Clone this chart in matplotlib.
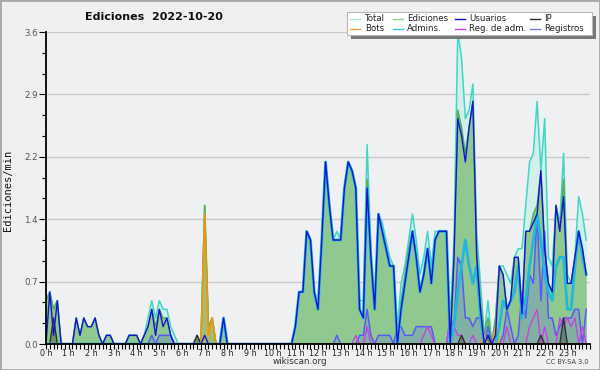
import numpy as np
import matplotlib
matplotlib.use("Agg")
import matplotlib.pyplot as plt
from matplotlib.patches import Rectangle
from matplotlib.lines import Line2D
from matplotlib.ticker import MultipleLocator, FixedLocator

# ---- data: edits per minute, one value per 10-minute bin (6 per hour) ----
total = [
    0.5, 0.6, 0.4, 0.5, 0, 0,
    0, 0, 0.3, 0.1, 0.3, 0.2,
    0.2, 0.3, 0.1, 0, 0.1, 0.1,
    0, 0, 0, 0, 0.1, 0.1,
    0.1, 0, 0.1, 0.3, 0.5, 0.3,
    0.5, 0.4, 0.4, 0.2, 0.1, 0,
    0, 0, 0, 0, 0.1, 0,
    1.6, 0.2, 0.3, 0, 0, 0.3,
    0, 0, 0, 0, 0, 0,
    0, 0, 0, 0, 0, 0,
    0, 0, 0, 0, 0, 0,
    0.2, 0.6, 0.6, 1.3, 1.2, 0.6,
    0.5, 1.2, 2.1, 1.6, 1.2, 1.3,
    1.2, 1.8, 2.1, 2.0, 1.8, 0.5,
    0.5, 2.3, 1.1, 0.4, 1.5, 1.4,
    1.2, 1.0, 0.9, 0.2, 0.7, 0.9,
    1.2, 1.5, 1.2, 0.8, 1.0, 1.3,
    0.9, 1.3, 1.3, 1.3, 1.3, 0.3,
    1.2, 3.6, 3.3, 2.6, 2.7, 3.0,
    1.3, 0.7, 0.1, 0.5, 0, 0.3,
    0.9, 0.9, 0.8, 0.7, 1.0, 1.1,
    1.1, 1.6, 2.1, 2.2, 2.8, 2.0,
    2.6, 1.0, 0.9, 1.6, 1.4, 2.2,
    0.8, 0.7, 1.0, 1.7, 1.5, 1.2,
]
ediciones = [
    0.5, 0.6, 0.4, 0.5, 0, 0,
    0, 0, 0.3, 0.1, 0.3, 0.2,
    0.2, 0.3, 0.1, 0, 0.1, 0.1,
    0, 0, 0, 0, 0.1, 0.1,
    0.1, 0, 0.1, 0.2, 0.4, 0.2,
    0.4, 0.3, 0.3, 0.1, 0, 0,
    0, 0, 0, 0, 0.1, 0,
    1.6, 0.2, 0.3, 0, 0, 0.3,
    0, 0, 0, 0, 0, 0,
    0, 0, 0, 0, 0, 0,
    0, 0, 0, 0, 0, 0,
    0.2, 0.6, 0.6, 1.3, 1.2, 0.6,
    0.4, 1.2, 2.1, 1.6, 1.2, 1.2,
    1.2, 1.8, 2.1, 2.0, 1.8, 0.4,
    0.3, 1.9, 1.0, 0.4, 1.5, 1.3,
    1.1, 0.9, 0.9, 0.0, 0.5, 0.8,
    1.1, 1.3, 1.0, 0.6, 0.8, 1.1,
    0.7, 1.2, 1.3, 1.3, 1.3, 0,
    1.0, 2.7, 2.5, 2.2, 2.5, 2.8,
    1.1, 0.5, 0.1, 0.3, 0, 0.3,
    0.9, 0.8, 0.4, 0.5, 1.0, 1.0,
    0.4, 1.3, 1.3, 1.5, 1.6, 2.0,
    1.1, 0.7, 0.6, 1.6, 1.3, 1.9,
    0.7, 0.7, 1.0, 1.3, 1.1, 0.8,
]
usuarios = [
    0, 0.6, 0.1, 0.5, 0, 0,
    0, 0, 0.3, 0.1, 0.3, 0.2,
    0.2, 0.3, 0.1, 0, 0.1, 0.1,
    0, 0, 0, 0, 0.1, 0.1,
    0.1, 0, 0.1, 0.2, 0.4, 0.1,
    0.4, 0.2, 0.3, 0.1, 0, 0,
    0, 0, 0, 0, 0, 0,
    0.1, 0, 0, 0, 0, 0.3,
    0, 0, 0, 0, 0, 0,
    0, 0, 0, 0, 0, 0,
    0, 0, 0, 0, 0, 0,
    0.2, 0.6, 0.6, 1.3, 1.2, 0.6,
    0.4, 1.2, 2.1, 1.6, 1.2, 1.2,
    1.2, 1.8, 2.1, 2.0, 1.8, 0.4,
    0.3, 1.8, 1.0, 0.4, 1.5, 1.3,
    1.1, 0.9, 0.9, 0.0, 0.4, 0.7,
    1.0, 1.3, 1.0, 0.6, 0.8, 1.1,
    0.7, 1.2, 1.3, 1.3, 1.3, 0,
    1.0, 2.6, 2.4, 2.1, 2.5, 2.8,
    1.0, 0.4, 0, 0.1, 0, 0.1,
    0.9, 0.8, 0.4, 0.5, 1.0, 1.0,
    0.35, 1.3, 1.3, 1.4, 1.5, 2.0,
    1.1, 0.7, 0.6, 1.6, 1.3, 1.7,
    0.7, 0.7, 1.0, 1.3, 1.1, 0.8,
]
ip = [
    0, 0, 0.3, 0, 0, 0,
    0, 0, 0, 0, 0, 0,
    0, 0, 0, 0, 0, 0,
    0, 0, 0, 0, 0, 0,
    0, 0, 0, 0, 0, 0,
    0, 0, 0, 0, 0, 0,
    0, 0, 0, 0, 0.1, 0,
    0, 0, 0, 0, 0, 0,
    0, 0, 0, 0, 0, 0,
    0, 0, 0, 0, 0, 0,
    0, 0, 0, 0, 0, 0,
    0, 0, 0, 0, 0, 0,
    0, 0, 0, 0, 0, 0,
    0, 0, 0, 0, 0, 0,
    0, 0, 0, 0, 0, 0,
    0, 0, 0, 0, 0, 0,
    0, 0, 0, 0, 0, 0,
    0, 0, 0, 0, 0, 0,
    0, 0, 0.1, 0, 0, 0,
    0, 0, 0, 0.1, 0, 0,
    0, 0, 0, 0, 0, 0,
    0, 0, 0, 0, 0, 0.1,
    0, 0, 0, 0, 0, 0.3,
    0, 0, 0, 0, 0, 0,
]
bots = [
    0, 0, 0, 0, 0, 0,
    0, 0, 0, 0, 0, 0,
    0, 0, 0, 0, 0, 0,
    0, 0, 0, 0, 0, 0,
    0, 0, 0, 0, 0, 0,
    0, 0, 0, 0, 0, 0,
    0, 0, 0, 0, 0, 0,
    1.5, 0.1, 0.3, 0, 0, 0,
    0, 0, 0, 0, 0, 0,
    0, 0, 0, 0, 0, 0,
    0, 0, 0, 0, 0, 0,
    0, 0, 0, 0, 0, 0,
    0, 0, 0, 0, 0, 0,
    0, 0, 0, 0, 0, 0,
    0, 0, 0, 0, 0, 0,
    0, 0, 0, 0, 0, 0,
    0, 0, 0, 0, 0, 0,
    0, 0, 0, 0, 0, 0,
    0, 0, 0, 0, 0, 0,
    0, 0, 0.1, 0, 0, 0.2,
    0, 0, 0, 0, 0, 0,
    0, 0, 0, 0, 0, 0,
    0, 0, 0, 0, 0, 0,
    0, 0, 0, 0, 0, 0,
]
admins = [
    0, 0, 0, 0, 0, 0,
    0, 0, 0, 0, 0, 0,
    0, 0, 0, 0, 0, 0,
    0, 0, 0, 0, 0, 0,
    0, 0, 0, 0, 0, 0,
    0, 0, 0, 0, 0, 0,
    0, 0, 0, 0, 0, 0,
    0, 0, 0, 0, 0, 0.3,
    0, 0, 0, 0, 0, 0,
    0, 0, 0, 0, 0, 0,
    0, 0, 0, 0, 0, 0,
    0.2, 0.6, 0.6, 1.3, 1.2, 0.6,
    0.4, 1.2, 2.1, 1.6, 1.2, 1.2,
    1.2, 1.8, 2.1, 2.0, 1.8, 0.4,
    0.3, 1.8, 1.0, 0.4, 1.5, 1.3,
    1.1, 0.9, 0.9, 0.0, 0.4, 0.7,
    1.0, 1.3, 1.0, 0.6, 0.8, 1.1,
    0.7, 1.2, 1.3, 1.3, 1.3, 0,
    0.2, 0.6, 0.9, 1.2, 0.9, 0.7,
    0.9, 0.3, 0, 0, 0, 0,
    0.2, 0.5, 0.4, 0.5, 0.6, 0.9,
    0.3, 0.5, 0.9, 1.2, 1.5, 1.2,
    0.8, 0.6, 0.5, 0.9, 1.0, 1.0,
    0.4, 0.4, 0.9, 1.3, 1.0, 0.8,
]
reg_adm = [
    0, 0, 0, 0, 0, 0,
    0, 0, 0, 0, 0, 0,
    0, 0, 0, 0, 0, 0,
    0, 0, 0, 0, 0, 0,
    0, 0, 0, 0, 0, 0,
    0, 0, 0, 0, 0, 0,
    0, 0, 0, 0, 0, 0,
    0, 0, 0, 0, 0, 0,
    0, 0, 0, 0, 0, 0,
    0, 0, 0, 0, 0, 0,
    0, 0, 0, 0, 0, 0,
    0, 0, 0, 0, 0, 0,
    0, 0, 0, 0, 0, 0,
    0, 0, 0, 0, 0.1, 0,
    0, 0.2, 0, 0, 0, 0,
    0, 0, 0, 0, 0, 0,
    0, 0, 0, 0, 0.1, 0.2,
    0.1, 0, 0, 0, 0, 0.3,
    0.2, 0.1, 0.1, 0, 0, 0.1,
    0, 0, 0, 0, 0, 0,
    0, 0, 0.2, 0, 0, 0,
    0, 0, 0.2, 0.3, 0.4, 0,
    0.2, 0, 0, 0, 0.3, 0.2,
    0.3, 0.2, 0.3, 0, 0.2, 0,
]
registros = [
    0, 0, 0, 0, 0, 0,
    0, 0, 0, 0, 0, 0,
    0, 0, 0, 0, 0, 0,
    0, 0, 0, 0, 0, 0,
    0, 0, 0, 0, 0.1, 0,
    0.1, 0.1, 0.1, 0.1, 0, 0,
    0, 0, 0, 0, 0, 0,
    0, 0, 0, 0, 0, 0,
    0, 0, 0, 0, 0, 0,
    0, 0, 0, 0, 0, 0,
    0, 0, 0, 0, 0, 0,
    0, 0, 0, 0, 0, 0,
    0, 0, 0, 0, 0, 0.1,
    0, 0, 0, 0, 0, 0.1,
    0.1, 0.4, 0.1, 0, 0.1, 0.1,
    0.1, 0.1, 0, 0.2, 0.2, 0.1,
    0.1, 0.1, 0.2, 0.2, 0.2, 0.2,
    0.2, 0, 0, 0, 0, 0.3,
    0.2, 1.0, 0.9, 0.3, 0.3, 0.2,
    0.3, 0.3, 0, 0.2, 0, 0,
    0, 0.1, 0.4, 0.2, 0, 0.1,
    0.6, 0.3, 0.8, 0.7, 1.5, 0.5,
    1.3, 0.3, 0.3, 0.1, 0.2, 0.3,
    0.3, 0.3, 0.4, 0.4, 0, 0.4,
]
hour_labels = ["0 h", "1 h", "2 h", "3 h", "4 h", "5 h", "6 h", "7 h", "8 h",
               "9 h", "10 h", "11 h", "12 h", "13 h", "14 h", "15 h", "16 h",
               "17 h", "18 h", "19 h", "20 h", "21 h", "22 h", "23 h"]
y_ticks = [0, 0.72, 1.44, 2.16, 2.88, 3.6]
y_tick_labels = ["0.0", "0.7", "1.4", "2.2", "2.9", "3.6"]
legend_labels = ["Total", "Ediciones", "Usuarios", "IP",
                 "Bots", "Admins.", "Reg. de adm.", "Registros"]

# ---- styling ----
W, H = 600, 370
BG_FIG = "#f0f0f0"
BG_AX = "#eef0f2"
C_TOTAL = "#3fd6c6"
C_TOTAL_FILL = "#d3efea"
C_ED = "#52b052"
C_ED_FILL = "#8fc98f"
C_USU = "#1414d4"
C_IP = "#303030"
C_BOTS = "#f0960f"
C_ADM = "#22b8dc"
C_REGADM = "#c444e0"
C_REG = "#5a5af2"

fig = plt.figure(figsize=(W / 100, H / 100), dpi=100, facecolor=BG_FIG)
ax = fig.add_axes([46 / W, 26 / H, 544 / W, 312 / H], facecolor=BG_AX)

x = np.arange(len(total))

ax.fill_between(x, 0, total, color=C_TOTAL_FILL, lw=0, zorder=1)
ax.plot(x, total, color=C_TOTAL, lw=1.1, zorder=1.5)
ax.fill_between(x, 0, ediciones, color=C_ED_FILL, lw=0, zorder=1.6)
ax.plot(x, ediciones, color=C_ED, lw=1.1, zorder=1.7)
ax.fill_between(x, 0, registros, color=C_REG, alpha=0.22, lw=0, zorder=1.8)
ax.fill_between(x, 0, ip, color=C_IP, alpha=0.35, lw=0, zorder=1.8)
ax.fill_between(x, 0, bots, color=C_BOTS, alpha=0.25, lw=0, zorder=1.8)
ax.plot(x, registros, color=C_REG, lw=1.1, zorder=2.0)
ax.plot(x, reg_adm, color=C_REGADM, lw=1.0, zorder=2.0)
ax.plot(x, ip, color=C_IP, lw=1.0, zorder=2.0)
ax.plot(x, bots, color=C_BOTS, lw=1.2, zorder=2.1)
ax.plot(x, admins, color=C_ADM, lw=2.0, zorder=2.1)
ax.plot(x, usuarios, color=C_USU, lw=1.0, zorder=2.2)

ax.set_xlim(0, len(total))
ax.set_ylim(0, 3.6)

ax.xaxis.set_major_locator(FixedLocator(np.arange(0, len(total), 6)))
ax.set_xticklabels(hour_labels)
ax.xaxis.set_minor_locator(MultipleLocator(1))
ax.tick_params(axis="x", which="both", direction="out", length=3.5, width=0.8,
               color="black", labelsize=5.8, labelcolor="#222222", pad=0.3)

ax.set_yticks(y_ticks)
ax.set_yticklabels(y_tick_labels)
ax.yaxis.set_minor_locator(MultipleLocator(0.24))
ax.tick_params(axis="y", which="major", direction="out", length=5, width=0.8,
               labelsize=6.2, labelcolor="#555555", pad=1)
ax.tick_params(axis="y", which="minor", direction="out", length=3, width=0.8)

ax.grid(axis="y", which="major", color="#c9c9c9", lw=1.0, zorder=0)
ax.set_axisbelow(True)
for s in ("top", "right"):
    ax.spines[s].set_visible(False)
for s in ("left", "bottom"):
    ax.spines[s].set_color("black")
    ax.spines[s].set_linewidth(1.3)
    ax.spines[s].set_zorder(3)

fig.text(8 / W, 1 - 190 / H, "Ediciones/min", rotation=90, ha="center",
         va="center", fontsize=7.5, family="DejaVu Sans Mono", color="#111111")
fig.text(154 / W, 1 - 17 / H, "Ediciones  2022-10-20", ha="center",
         va="center", fontsize=8, fontweight="bold", color="#111111")
fig.text(300 / W, 1 - 362 / H, "wikiscan.org", ha="center", va="center",
         fontsize=6.3, color="#333333")
fig.text(589 / W, 1 - 362 / H, "CC BY-SA 3.0", ha="right", va="center",
         fontsize=4.8, color="#444444")

# ---- legend box drawn manually ----
def fr(px, py, w, h):
    return (px / W, 1 - (py + h) / H), w / W, h / H

xy, w, h = fr(351, 16, 245, 23)
fig.patches.append(Rectangle(xy, w, h, transform=fig.transFigure,
                             facecolor="#777777", edgecolor="none", zorder=5))
xy, w, h = fr(347, 12, 245, 23)
fig.patches.append(Rectangle(xy, w, h, transform=fig.transFigure,
                             facecolor="white", edgecolor="#b8b8b8", lw=0.8,
                             zorder=6))
legend_colors = ["#a6e8e2", "#8fd08f", C_USU, C_IP,
                 "#f2a040", "#40c8dc", C_REGADM, "#7878f2"]
col_line_x = [350, 393, 455, 530]
col_text_x = [365, 407, 469, 544]
row_y = [18.5, 28.5]
for k, lab in enumerate(legend_labels):
    r, c = divmod(k, 4)
    yy = 1 - row_y[r] / H
    fig.lines.append(Line2D([col_line_x[c] / W, (col_line_x[c] + 10) / W],
                            [yy, yy], transform=fig.transFigure,
                            color=legend_colors[k], lw=1.0, zorder=7))
    fig.text(col_text_x[c] / W, yy, lab, ha="left", va="center",
             fontsize=6.2, color="#222222", zorder=7)

# figure border
fig.patches.append(Rectangle((0, 0), 1, 1, transform=fig.transFigure,
                             fill=False, edgecolor="#a8a8a8", lw=2.0, zorder=8))

fig.savefig("out.png", dpi=100, facecolor=BG_FIG)
